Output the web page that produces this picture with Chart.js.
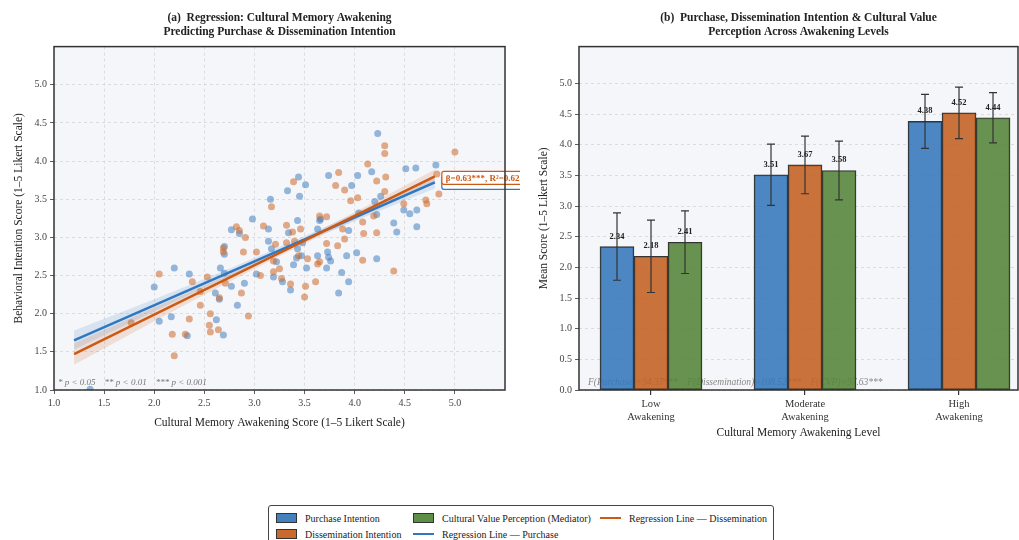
<!DOCTYPE html>
<html lang="en">
<head>
<meta charset="UTF-8">
<title>Cultural Memory Awakening</title>
<script src="https://cdn.jsdelivr.net/npm/chart.js"></script>
<style>
  html, body { margin: 0; padding: 0; background: #fff; overflow: hidden; }
  body { width: 1019px; height: 540px; position: relative; font-family: "Liberation Serif", "DejaVu Serif", serif; }
  #left { position: absolute; left: 0; top: 0; }
  #right { position: absolute; left: 520px; top: 0; }
  .legend { position: absolute; left: 268px; top: 505px; width: 506px; height: 44px; border: 1px solid #444; border-radius: 3px; background: #fff; box-sizing: border-box; }
  .item { position: absolute; display: flex; align-items: center; font-size: 10px; color: #222; white-space: nowrap; height: 14px; }
  .sw { display: inline-block; width: 19px; height: 8px; border: 1px solid #333; margin-right: 8px; }
  .ln { display: inline-block; width: 21px; height: 2.5px; margin-right: 8px; }
</style>
</head>
<body>
<canvas id="left" width="520" height="434"></canvas>
<canvas id="right" width="499" height="444"></canvas>

<div class="legend">
  <div class="item" style="left:7px;top:5px"><span class="sw" style="background:#4280be"></span>Purchase Intention</div>
  <div class="item" style="left:7px;top:21px"><span class="sw" style="background:#c86a2e"></span>Dissemination Intention</div>
  <div class="item" style="left:144px;top:5px"><span class="sw" style="background:#5f8e46"></span>Cultural Value Perception (Mediator)</div>
  <div class="item" style="left:144px;top:21px"><span class="ln" style="background:#2f77c0"></span>Regression Line — Purchase</div>
  <div class="item" style="left:331px;top:5px"><span class="ln" style="background:#cc5a14"></span>Regression Line — Dissemination</div>
</div>

<script>
// ---- panel (a): scatter + regression ----
const purchX = [3.44, 3.33, 3.45, 3.16, 2.98, 2.77, 2.85, 3.14, 3.43, 3.34, 3.14,
  4.23, 4.17, 4.51, 4.61, 4.81, 3.74, 3.51, 3.97, 4.03, 4.26, 4.20, 4.49, 4.55, 4.62, 4.39, 4.42, 4.62, 4.22, 3.94, 3.63, 3.65, 3.66, 4.04,
  2.00, 2.20, 2.35, 2.05, 2.17, 2.33, 2.66, 2.70, 2.61, 2.65, 2.62, 2.69, 2.83, 2.77, 2.90, 2.70, 2.70, 3.17, 3.22, 3.02, 3.19, 3.28, 3.36, 3.39, 3.42, 3.43,
  3.63, 3.73, 3.74, 3.76, 3.52, 3.72, 3.92, 4.02, 4.22, 3.87, 3.94, 3.84, 3.48, 3.47, 1.36];
const purchY = [3.79, 3.61, 3.54, 3.50, 3.24, 3.10, 3.05, 3.11, 3.22, 3.06, 2.95,
  4.36, 3.86, 3.90, 3.91, 3.95, 3.81, 3.69, 3.68, 3.81, 3.54, 3.47, 3.36, 3.31, 3.36, 3.19, 3.07, 3.14, 3.30, 3.09, 3.11, 3.22, 3.24, 3.32,
  2.35, 2.60, 2.52, 1.90, 1.96, 1.71, 2.60, 2.53, 2.27, 2.19, 1.92, 1.72, 2.11, 2.36, 2.40, 2.88, 2.78, 2.85, 2.68, 2.52, 2.48, 2.42, 2.31, 2.64, 2.73, 2.85,
  2.76, 2.81, 2.74, 2.69, 2.60, 2.60, 2.76, 2.80, 2.72, 2.54, 2.42, 2.27, 2.93, 2.76, 1.01];

const dissX = [3.39, 3.17, 2.82, 2.85, 2.91, 3.09, 3.32, 3.38, 3.46, 3.21, 3.32,
  4.30, 4.30, 5.00, 4.13, 4.82, 3.84, 3.81, 3.90, 4.22, 4.31, 4.30, 3.96, 4.03, 4.71, 4.72, 4.84, 4.49, 4.19, 4.08, 4.09, 4.22, 3.88, 3.65, 3.72, 3.90,
  2.05, 2.38, 2.35, 2.18, 2.31, 2.20, 2.46, 2.53, 2.71, 2.65, 2.56, 2.55, 2.64, 2.56, 2.87, 2.94, 2.69, 2.69, 2.89, 3.02, 3.19, 3.06, 3.19, 3.25, 3.27, 3.36, 3.44, 3.50, 3.40,
  3.72, 3.83, 3.53, 3.63, 3.65, 4.08, 4.39, 3.61, 3.51, 1.77, 2.46];
const dissY = [3.73, 3.40, 3.14, 3.09, 3.00, 3.15, 3.16, 3.07, 3.11, 2.91, 2.93,
  4.20, 4.10, 4.12, 3.96, 3.83, 3.85, 3.68, 3.62, 3.74, 3.79, 3.60, 3.48, 3.52, 3.49, 3.44, 3.57, 3.44, 3.28, 3.20, 3.05, 3.06, 3.11, 3.28, 3.27, 2.98,
  2.52, 2.42, 1.93, 1.73, 1.73, 1.45, 2.11, 2.48, 2.40, 2.21, 2.00, 1.85, 1.79, 1.76, 2.27, 1.97, 2.86, 2.81, 2.81, 2.81, 2.69, 2.50, 2.55, 2.59, 2.46, 2.39, 2.76, 2.22, 2.95,
  2.92, 2.89, 2.72, 2.65, 2.68, 2.70, 2.56, 2.42, 2.36, 1.88, 2.29];

// fitted lines (end points) and 95% bands
const fitX = [1.2, 4.8];
const purchFit = [1.65, 3.72];
const dissFit = [1.47, 3.80];
const bandX = [1.2, 2.0, 2.8, 3.4, 4.0, 4.8];
const purchLo = [1.53, 2.03, 2.52, 2.88, 3.21, 3.64];
const purchHi = [1.78, 2.19, 2.62, 2.96, 3.31, 3.80];
const dissLo = [1.33, 1.90, 2.45, 2.85, 3.23, 3.71];
const dissHi = [1.61, 2.08, 2.55, 2.93, 3.33, 3.89];

// ---- panel (b): grouped bars ----
const levels = [['Low', 'Awakening'], ['Moderate', 'Awakening'], ['High', 'Awakening']];
const purchMean = [2.34, 3.51, 4.38];
const dissMean = [2.18, 3.67, 4.52];
const cvpMean = [2.41, 3.58, 4.44];
const purchErr = [0.55, 0.50, 0.44];
const dissErr = [0.59, 0.47, 0.42];
const cvpErr = [0.51, 0.48, 0.41];

const serif = '"Liberation Serif", "DejaVu Serif", serif';
Chart.defaults.font.family = serif;
Chart.defaults.color = '#333';

const pts = (xs, ys) => xs.map((x, i) => ({ x: x, y: ys[i] }));

// plot background + box frame
const frame = {
  id: 'frame',
  beforeDraw(chart) {
    const { ctx, chartArea: a } = chart;
    ctx.save();
    ctx.fillStyle = '#f5f6f9';
    ctx.fillRect(a.left, a.top, a.width, a.height);
    ctx.restore();
  },
  afterDraw(chart) {
    const { ctx, chartArea: a } = chart;
    ctx.save();
    ctx.strokeStyle = '#333';
    ctx.lineWidth = 1.5;
    ctx.strokeRect(a.left, a.top, a.width, a.height);
    ctx.restore();
  }
};

function roundBox(ctx, x, y, w, h, r) {
  ctx.beginPath();
  ctx.moveTo(x + r, y);
  ctx.arcTo(x + w, y, x + w, y + h, r);
  ctx.arcTo(x + w, y + h, x, y + h, r);
  ctx.arcTo(x, y + h, x, y, r);
  ctx.arcTo(x, y, x + w, y, r);
  ctx.closePath();
}

const betaLabel = {
  id: 'betaLabel',
  afterDatasetsDraw(chart) {
    const { ctx, scales: { x, y }, chartArea: a } = chart;
    const left = x.getPixelForValue(fitX[1]) + 7;
    const cy = y.getPixelForValue(dissFit[1]) + 2;
    const text = 'β=0.63***, R²=0.62';
    ctx.save();
    ctx.font = 'bold 9px ' + serif;
    const w = ctx.measureText(text).width + 8;
    // purchase label box sits just behind
    roundBox(ctx, left, cy - 6 + 4, w, 13, 2);
    ctx.fillStyle = '#fff'; ctx.fill();
    ctx.strokeStyle = '#2f77c0'; ctx.lineWidth = 1.2; ctx.stroke();
    roundBox(ctx, left, cy - 7, w, 13, 2);
    ctx.fillStyle = '#fff'; ctx.fill();
    ctx.strokeStyle = '#cc5a14'; ctx.stroke();
    ctx.fillStyle = '#cc5a14';
    ctx.textBaseline = 'middle';
    ctx.fillText(text, left + 4, cy);
    // significance note
    ctx.font = 'italic 9px ' + serif;
    ctx.fillStyle = '#777';
    ctx.textBaseline = 'alphabetic';
    ctx.fillText('* p < 0.05    ** p < 0.01    *** p < 0.001', a.left + 4, a.bottom - 5);
    ctx.restore();
  }
};

const gridOpts = { color: '#d6d6d6', lineWidth: 0.8, tickColor: '#333', tickLength: 4 };
const tickFont = { size: 10 };
const oneDec = v => (v > 5.01 ? null : v.toFixed(1));

new Chart(document.getElementById('left'), {
  type: 'scatter',
  data: {
    datasets: [
      { label: 'Purchase', data: pts(purchX, purchY), backgroundColor: 'rgba(52,115,188,0.5)', borderWidth: 0, pointRadius: 3.5, order: 6 },
      { label: 'Dissemination', data: pts(dissX, dissY), backgroundColor: 'rgba(204,106,44,0.55)', borderWidth: 0, pointRadius: 3.5, order: 5 },
      { data: pts(bandX, purchLo), showLine: true, pointRadius: 0, borderWidth: 0, cubicInterpolationMode: 'monotone', fill: '+1', backgroundColor: 'rgba(47,119,192,0.15)', order: 4 },
      { data: pts(bandX, purchHi), showLine: true, pointRadius: 0, borderWidth: 0, cubicInterpolationMode: 'monotone', fill: false, order: 4 },
      { data: pts(bandX, dissLo), showLine: true, pointRadius: 0, borderWidth: 0, cubicInterpolationMode: 'monotone', fill: '+1', backgroundColor: 'rgba(204,90,20,0.15)', order: 3 },
      { data: pts(bandX, dissHi), showLine: true, pointRadius: 0, borderWidth: 0, cubicInterpolationMode: 'monotone', fill: false, order: 3 },
      { label: 'Regression Line — Purchase', data: pts(fitX, purchFit), showLine: true, pointRadius: 0, borderColor: '#2f77c0', borderWidth: 2.5, order: 2 },
      { label: 'Regression Line — Dissemination', data: pts(fitX, dissFit), showLine: true, pointRadius: 0, borderColor: '#cc5a14', borderWidth: 2.5, order: 1 }
    ]
  },
  options: {
    responsive: false,
    animation: false,
    layout: { padding: { left: 0, right: 15, top: 0, bottom: 0 } },
    plugins: {
      legend: { display: false },
      tooltip: { enabled: false },
      title: {
        display: true,
        fullSize: false,
        text: ['(a)  Regression: Cultural Memory Awakening', 'Predicting Purchase & Dissemination Intention'],
        font: { size: 11.5, weight: 'bold' },
        color: '#222',
        padding: { top: 11, bottom: 8 }
      }
    },
    scales: {
      x: {
        type: 'linear', min: 1, max: 5.5,
        ticks: { stepSize: 0.5, callback: oneDec, font: tickFont, color: '#444', padding: 3, maxRotation: 0 },
        grid: gridOpts,
        border: { display: false, dash: [3, 3] },
        title: { display: true, text: 'Cultural Memory Awakening Score (1–5 Likert Scale)', font: { size: 11.5 }, color: '#222', padding: { top: 5, bottom: 4 } },
        afterFit: s => { s.height = 44; }
      },
      y: {
        type: 'linear', min: 1, max: 5.5,
        ticks: { stepSize: 0.5, callback: oneDec, font: tickFont, color: '#444', padding: 3 },
        grid: gridOpts,
        border: { display: false, dash: [3, 3] },
        title: { display: true, text: 'Behavioral Intention Score (1–5 Likert Scale)', font: { size: 11.5 }, color: '#222', padding: { top: 12, bottom: 0 } },
        afterFit: s => { s.width = 54; }
      }
    }
  },
  plugins: [frame, betaLabel]
});

// error bars, value labels and F-test note for panel (b)
const barExtras = {
  id: 'barExtras',
  beforeDatasetsDraw(chart) {
    const { ctx, chartArea: a } = chart;
    ctx.save();
    ctx.font = 'italic 9.5px ' + serif;
    ctx.fillStyle = '#888';
    ctx.fillText('F(Purchase)=94.37***    F(Dissemination)=108.52***    F(CVP)=97.63***', a.left + 9, a.bottom - 5);
    ctx.restore();
  },
  afterDatasetsDraw(chart) {
    const { ctx, scales: { y } } = chart;
    ctx.save();
    chart.data.datasets.forEach((ds, di) => {
      const meta = chart.getDatasetMeta(di);
      meta.data.forEach((bar, i) => {
        const v = ds.data[i].y, e = ds.errs[i];
        const top = y.getPixelForValue(v + e), bot = y.getPixelForValue(v - e);
        ctx.strokeStyle = '#333';
        ctx.lineWidth = 1.2;
        ctx.beginPath();
        ctx.moveTo(bar.x, top); ctx.lineTo(bar.x, bot);
        ctx.moveTo(bar.x - 4, top); ctx.lineTo(bar.x + 4, top);
        ctx.moveTo(bar.x - 4, bot); ctx.lineTo(bar.x + 4, bot);
        ctx.stroke();
      });
    });
    ctx.font = 'bold 8.5px ' + serif;
    ctx.fillStyle = '#222';
    ctx.textAlign = 'center';
    chart.data.datasets.forEach((ds, di) => {
      chart.getDatasetMeta(di).data.forEach((bar, i) => {
        ctx.fillText(ds.data[i].y.toFixed(2), bar.x, bar.y - 8);
      });
    });
    ctx.restore();
  }
};

const toBars = vals => vals.map((v, i) => ({ x: i, y: v }));

new Chart(document.getElementById('right'), {
  type: 'bar',
  data: {
    datasets: [
      { label: 'Purchase Intention', data: toBars(purchMean), errs: purchErr, backgroundColor: 'rgba(52,120,188,0.88)' },
      { label: 'Dissemination Intention', data: toBars(dissMean), errs: dissErr, backgroundColor: 'rgba(196,96,32,0.88)' },
      { label: 'Cultural Value Perception (Mediator)', data: toBars(cvpMean), errs: cvpErr, backgroundColor: 'rgba(84,132,56,0.88)' }
    ]
  },
  options: {
    responsive: false,
    animation: false,
    datasets: { bar: { barThickness: 34, borderColor: '#333', borderWidth: 1.2, borderSkipped: false } },
    layout: { padding: { left: 0, right: 1, top: 0, bottom: 0 } },
    plugins: {
      legend: { display: false },
      tooltip: { enabled: false },
      title: {
        display: true,
        fullSize: false,
        text: ['(b)  Purchase, Dissemination Intention & Cultural Value', 'Perception Across Awakening Levels'],
        font: { size: 11.5, weight: 'bold' },
        color: '#222',
        padding: { top: 11, bottom: 8 }
      }
    },
    scales: {
      x: {
        type: 'linear', min: -0.4675, max: 2.383,
        bounds: 'data',
        offset: false,
        afterBuildTicks: s => { s.ticks = levels.map((l, i) => ({ value: i })); },
        ticks: {
          font: { size: 10.5 }, color: '#333', padding: 3, maxRotation: 0, autoSkip: false,
          callback: v => levels[v]
        },
        grid: { offset: false, drawOnChartArea: false, tickColor: '#333', tickLength: 5, lineWidth: 1.2 },
        border: { display: false },
        title: { display: true, text: 'Cultural Memory Awakening Level', font: { size: 11.5 }, color: '#222', padding: { top: 5, bottom: 4 } },
        afterFit: s => { s.height = 54; }
      },
      y: {
        min: 0, max: 5.6,
        ticks: { stepSize: 0.5, callback: oneDec, font: tickFont, color: '#444', padding: 3 },
        grid: gridOpts,
        border: { display: false, dash: [3, 3] },
        title: { display: true, text: 'Mean Score (1–5 Likert Scale)', font: { size: 11.5 }, color: '#222', padding: { top: 17, bottom: 0 } },
        afterFit: s => { s.width = 59; }
      }
    }
  },
  plugins: [frame, barExtras]
});
</script>
</body>
</html>
